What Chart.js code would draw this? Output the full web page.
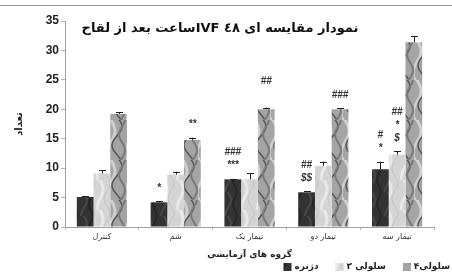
<!DOCTYPE html>
<html>
<head>
<meta charset="utf-8">
<script src="https://cdn.jsdelivr.net/npm/chart.js@4.4.1/dist/chart.umd.min.js"></script>
<style>
  html, body { margin: 0; padding: 0; background: #fff; }
  #box { width: 452px; height: 273px; }
</style>
</head>
<body>
<div id="box"><canvas id="chart" width="452" height="273"></canvas></div>
<script>
// categories and series
const groups = ['کنترل', 'شم', 'تیمار یک', 'تیمار دو', 'تیمار سه'];
const seriesNames = ['دژنره', '۲ سلولی', '۴سلولی'];
const degenerate = [5.1, 4.2, 8.1, 5.9, 9.8];
const twoCell = [9.1, 8.9, 8.1, 10.4, 12.3];
const fourCell = [19.2, 14.8, 20.0, 20.0, 31.4];
// error bars (+)
const degenerateErr = [0.15, 0.15, 0.1, 0.2, 1.3];
const twoCellErr = [0.5, 0.5, 1.0, 0.7, 0.6];
const fourCellErr = [0.3, 0.4, 0.3, 0.2, 1.0];
// significance marks, listed from the bar upward
const degenerateMarks = [[], ['*'], ['***', '###'], ['$$', '##'], ['*', '#']];
const twoCellMarks = [[], [], [], [], ['$', '*', '##']];
const fourCellMarks = [[], ['**'], ['', '##'], ['###'], []];
const titleText = 'نمودار مقایسه ای ٤٨ IVFساعت بعد از لقاح';
const yTicks = [0, 5, 10, 15, 20, 25, 30, 35];

// textured fills, roughly like the scanned bars
function texture(base, strokes, w, h) {
  const c = document.createElement('canvas');
  c.width = w; c.height = h;
  const g = c.getContext('2d');
  g.fillStyle = base;
  g.fillRect(0, 0, w, h);
  strokes.forEach(s => {
    g.strokeStyle = s.color;
    g.lineWidth = s.width;
    g.beginPath();
    for (let y = -4; y <= h + 4; y += 2) {
      const x = s.x + s.amp * Math.sin((y + s.phase) / s.len);
      if (y === -4) g.moveTo(x, y); else g.lineTo(x, y);
    }
    g.stroke();
  });
  return g.createPattern(c, 'repeat');
}
const darkFill = texture('#333', [
  {color: '#484848', width: 2, x: 4, amp: 3, phase: 0, len: 5},
  {color: '#262626', width: 2, x: 11, amp: 2, phase: 7, len: 4}
], 16, 24);
const lightFill = texture('#d4d4d4', [
  {color: '#e8e8e8', width: 3, x: 4, amp: 3, phase: 0, len: 6},
  {color: '#c4c4c4', width: 1, x: 11, amp: 3, phase: 5, len: 5}
], 16, 30);
const marbleFill = texture('#a4a4a4', [
  {color: '#cfcfcf', width: 3, x: 3, amp: 4, phase: 0, len: 7},
  {color: '#575757', width: 1.5, x: 9, amp: 5, phase: 3, len: 6},
  {color: '#7a7a7a', width: 2, x: 14, amp: 3, phase: 9, len: 5}
], 18, 40);

const errs = [degenerateErr, twoCellErr, fourCellErr];
const marks = [degenerateMarks, twoCellMarks, fourCellMarks];

const extras = {
  id: 'extras',
  beforeDraw(chart) {
    const c = chart.ctx;
    c.save();
    c.strokeStyle = '#9a9a9a';
    c.lineWidth = 1;
    c.beginPath();
    c.moveTo(0, 5.5); c.lineTo(chart.width, 5.5);
    c.stroke();
    c.restore();
  },
  afterDatasetsDraw(chart) {
    const c = chart.ctx;
    const y = chart.scales.y;
    c.save();
    chart.data.datasets.forEach((ds, i) => {
      const meta = chart.getDatasetMeta(i);
      meta.data.forEach((bar, j) => {
        const top = y.getPixelForValue(ds.data[j] + errs[i][j]);
        c.strokeStyle = '#222';
        c.lineWidth = 1;
        c.beginPath();
        c.moveTo(Math.round(bar.x) + 0.5, bar.y);
        c.lineTo(Math.round(bar.x) + 0.5, top);
        c.moveTo(Math.round(bar.x) - 3, Math.round(top) + 0.5);
        c.lineTo(Math.round(bar.x) + 4, Math.round(top) + 0.5);
        c.stroke();
        c.fillStyle = '#333';
        c.font = 'bold italic 10px "Liberation Sans"';
        c.textAlign = 'center';
        c.textBaseline = 'middle';
        marks[i][j].forEach((m, k) => {
          c.fillText(m, bar.x, top - 13 - k * 13);
        });
      });
    });
    c.restore();
  },
  afterDraw(chart) {
    const c = chart.ctx;
    c.save();
    // title sits inside the plot area
    c.fillStyle = '#111';
    c.font = 'bold 13px "DejaVu Sans"';
    c.direction = 'rtl';
    c.textAlign = 'center';
    c.textBaseline = 'middle';
    c.fillText(titleText, 220, 29);
    // legend, boxes left of their labels, right-aligned
    c.direction = 'ltr';
    c.font = 'bold 9px "DejaVu Sans"';
    c.textAlign = 'left';
    const ds = chart.data.datasets;
    const widths = ds.map(d => 8 + 3 + c.measureText(d.label).width);
    const gap = 17;
    let x = 450 - widths.reduce((a, b) => a + b, 0) - gap * (ds.length - 1);
    const ly = 267;
    ds.forEach((d, i) => {
      c.fillStyle = d.backgroundColor;
      c.fillRect(x, ly - 4, 8, 8);
      c.fillStyle = '#222';
      c.fillText(d.label, x + 11, ly);
      x += widths[i] + gap;
    });
    c.restore();
  }
};

new Chart(document.getElementById('chart'), {
  type: 'bar',
  data: {
    labels: groups,
    datasets: [
      {label: seriesNames[0], data: degenerate, backgroundColor: darkFill},
      {label: seriesNames[1], data: twoCell, backgroundColor: lightFill},
      {label: seriesNames[2], data: fourCell, backgroundColor: marbleFill}
    ]
  },
  options: {
    responsive: false,
    animation: false,
    categoryPercentage: 0.68,
    barPercentage: 1.0,
    layout: {padding: {left: 13, right: 18, top: 21, bottom: 13}},
    scales: {
      x: {
        grid: {drawOnChartArea: false, tickLength: 3, color: '#b5b5b5'},
        border: {color: '#a0a0a0'},
        ticks: {font: {family: 'DejaVu Sans', size: 8}, color: '#333', padding: 2},
        title: {display: true, text: 'گروه های آزمایشی', color: '#222',
                font: {family: 'DejaVu Sans', size: 9, weight: 'bold'}, padding: {top: 2, bottom: 0}},
        afterFit(s) { s.height = 33; }
      },
      y: {
        min: 0, max: 35,
        afterBuildTicks(s) { s.ticks = yTicks.map(v => ({value: v})); },
        grid: {drawOnChartArea: false, tickLength: 4, color: '#b5b5b5'},
        border: {color: '#a0a0a0'},
        ticks: {font: {family: 'Liberation Sans', size: 12, weight: 'bold'}, color: '#222', padding: 2},
        title: {display: true, text: 'تعداد', color: '#222',
                font: {family: 'DejaVu Sans', size: 10, weight: 'bold'}, padding: 0},
        afterFit(s) { s.width = 52; }
      }
    },
    plugins: {
      legend: {display: false},
      tooltip: {enabled: false}
    }
  },
  plugins: [extras]
});
</script>
</body>
</html>
